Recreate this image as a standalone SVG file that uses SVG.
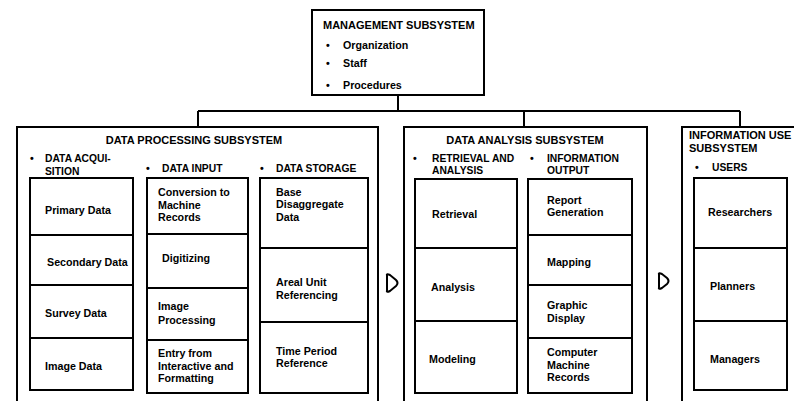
<svg xmlns="http://www.w3.org/2000/svg" width="794" height="401" viewBox="0 0 794 401">
<style>
.box{fill:none;stroke:#000;stroke-width:2}
.cell{fill:#fff;stroke:#000;stroke-width:2}
.ln{fill:none;stroke:#000;stroke-width:2}
text{font-family:"Liberation Sans",Arial,sans-serif;font-size:10.7px;font-weight:bold;fill:#000}
.h{font-size:10.3px}
.t{font-size:11px}
.c{text-anchor:middle}
</style>
<rect width="794" height="401" fill="#fff"/>
<g id="connectors">
<path class="ln" d="M398,95 V111 M198,111 H740 M198,111 V127 M524,111 V127 M740,111 V127"/>
<path class="ln" d="M387,276 Q386,273 390,275 L396,280 Q399,283 396,286 L390,291 Q386,293 387,290 Z"/>
<path class="ln" d="M659,275 Q658,272 662,274 L667,278 Q670,281 667,284 L662,288 Q658,290 659,287 Z"/>
</g>
<g id="management">
<rect class="box" x="312" y="10" width="172" height="85"/>
<text class="t" x="323" y="29">MANAGEMENT SUBSYSTEM</text>
<text x="326" y="49">•</text><text x="343" y="49">Organization</text>
<text x="326" y="67">•</text><text x="343" y="67">Staff</text>
<text x="326" y="89">•</text><text x="343" y="89">Procedures</text>
</g>
<g id="data-processing">
<path class="box" d="M17,405 V127 H378 V405"/>
<text class="t c" x="194" y="144">DATA PROCESSING SUBSYSTEM</text>
<text x="30" y="162">•</text><text class="h" x="45" y="162">DATA ACQUI-</text><text class="h" x="45" y="175">SITION</text>
<text x="146" y="172">•</text><text class="h" x="162" y="172">DATA INPUT</text>
<text x="260" y="172">•</text><text class="h" x="276" y="172">DATA STORAGE</text>
</g>
<g id="acq-primary"><rect class="cell" x="30" y="178" width="103" height="57"/><text x="45" y="214">Primary Data</text></g>
<g id="acq-secondary"><rect class="cell" x="30" y="235" width="103" height="50"/><text x="47" y="266">Secondary Data</text></g>
<g id="acq-survey"><rect class="cell" x="30" y="285" width="103" height="53"/><text x="45" y="317">Survey Data</text></g>
<g id="acq-image"><rect class="cell" x="30" y="338" width="103" height="52"/><text x="45" y="370">Image Data</text></g>
<g id="in-conversion"><rect class="cell" x="147" y="178" width="101" height="56"/><text x="158" y="196">Conversion to</text><text x="158" y="209">Machine</text><text x="158" y="221">Records</text></g>
<g id="in-digitizing"><rect class="cell" x="147" y="234" width="101" height="54"/><text x="162" y="262">Digitizing</text></g>
<g id="in-image"><rect class="cell" x="147" y="288" width="101" height="52"/><text x="158" y="310">Image</text><text x="158" y="324">Processing</text></g>
<g id="in-entry"><rect class="cell" x="147" y="340" width="101" height="53"/><text x="158" y="357">Entry from</text><text x="158" y="370">Interactive and</text><text x="158" y="382">Formatting</text></g>
<g id="st-base"><rect class="cell" x="260" y="178" width="108" height="70"/><text x="276" y="196">Base</text><text x="276" y="208">Disaggregate</text><text x="276" y="221">Data</text></g>
<g id="st-areal"><rect class="cell" x="260" y="248" width="108" height="74"/><text x="276" y="286">Areal Unit</text><text x="276" y="299">Referencing</text></g>
<g id="st-time"><rect class="cell" x="260" y="322" width="108" height="71"/><text x="276" y="355">Time Period</text><text x="276" y="367">Reference</text></g>
<g id="data-analysis">
<path class="box" d="M404,405 V127 H647 V405"/>
<text class="t c" x="525" y="144">DATA ANALYSIS SUBSYSTEM</text>
<text x="413" y="162">•</text><text class="h" x="432" y="162">RETRIEVAL AND</text><text class="h" x="432" y="174">ANALYSIS</text>
<text x="530" y="162">•</text><text class="h" x="547" y="162">INFORMATION</text><text class="h" x="547" y="174">OUTPUT</text>
</g>
<g id="an-retrieval"><rect class="cell" x="415" y="179" width="102" height="69"/><text x="432" y="218">Retrieval</text></g>
<g id="an-analysis"><rect class="cell" x="415" y="248" width="102" height="73"/><text x="431" y="291">Analysis</text></g>
<g id="an-modeling"><rect class="cell" x="415" y="321" width="102" height="72"/><text x="429" y="363">Modeling</text></g>
<g id="out-report"><rect class="cell" x="528" y="179" width="104" height="56"/><text x="547" y="204">Report</text><text x="547" y="216">Generation</text></g>
<g id="out-mapping"><rect class="cell" x="528" y="235" width="104" height="50"/><text x="547" y="266">Mapping</text></g>
<g id="out-graphic"><rect class="cell" x="528" y="285" width="104" height="53"/><text x="547" y="309">Graphic</text><text x="547" y="322">Display</text></g>
<g id="out-computer"><rect class="cell" x="528" y="338" width="104" height="55"/><text x="547" y="356">Computer</text><text x="547" y="369">Machine</text><text x="547" y="381">Records</text></g>
<g id="information-use">
<path class="box" d="M682,405 V127 H800"/>
<text class="t" x="689" y="139">INFORMATION USE</text><text class="t" x="689" y="152">SUBSYSTEM</text>
<text x="695" y="171">•</text><text class="h" x="712" y="171">USERS</text>
</g>
<g id="u-researchers"><rect class="cell" x="694" y="178" width="93" height="70"/><text x="708" y="216">Researchers</text></g>
<g id="u-planners"><rect class="cell" x="694" y="248" width="93" height="73"/><text x="710" y="290">Planners</text></g>
<g id="u-managers"><rect class="cell" x="694" y="321" width="93" height="69"/><text x="710" y="363">Managers</text></g>
</svg>
